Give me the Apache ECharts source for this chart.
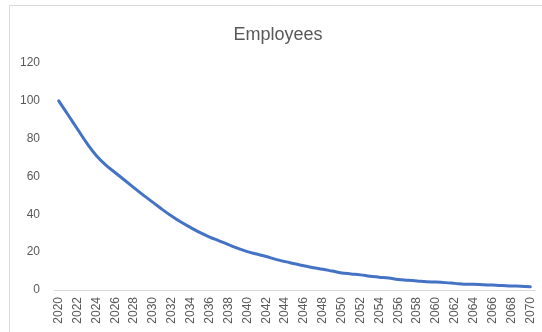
<!DOCTYPE html>
<html>
<head>
<meta charset="utf-8">
<script src="https://cdn.jsdelivr.net/npm/echarts@6/dist/echarts.min.js"></script>
<style>
html,body{margin:0;padding:0;background:#fff;}
#chart{width:542px;height:332px;}
</style>
</head>
<body>
<div id="chart"></div>
<script>
var years = ['2020','2021','2022','2023','2024','2025','2026','2027','2028','2029',
'2030','2031','2032','2033','2034','2035','2036','2037','2038','2039',
'2040','2041','2042','2043','2044','2045','2046','2047','2048','2049',
'2050','2051','2052','2053','2054','2055','2056','2057','2058','2059',
'2060','2061','2062','2063','2064','2065','2066','2067','2068','2069','2070'];
var employees = [100,92.5,85,77.5,71,66,62,58,54,50,
46.3,42.5,39,35.8,33,30.3,28,26,24,22,
20.3,19,17.7,16.2,15,13.9,12.8,11.8,11,10,
9,8.5,8,7.3,6.8,6.3,5.6,5.2,4.8,4.4,
4.2,3.9,3.5,3.1,3,2.8,2.6,2.4,2.1,2,1.7];
var yTicks = [0,20,40,60,80,100,120];
var titleText = 'Employees';

var chart = echarts.init(document.getElementById('chart'));
chart.setOption({
  animation:false,
  title:{text:titleText,left:273,textAlign:'center',top:21,
    textStyle:{fontFamily:'Liberation Sans',fontSize:18,fontWeight:'normal',color:'#595959'}},
  graphic:[{type:'rect',shape:{x:9.5,y:5.5,width:560,height:360},
    style:{fill:'none',stroke:'#d9d9d9',lineWidth:1},silent:true}],
  grid:{left:54,right:7,top:63,bottom:42},
  xAxis:{type:'category',data:years,boundaryGap:true,
    axisLine:{lineStyle:{color:'#d9d9d9',width:1}},
    axisTick:{show:false},
    axisLabel:{interval:1,rotate:90,margin:7,color:'#595959',fontSize:12,fontFamily:'Liberation Sans'}},
  yAxis:{type:'value',min:yTicks[0],max:yTicks[yTicks.length-1],interval:20,
    axisLine:{show:false},axisTick:{show:false},splitLine:{show:false},
    axisLabel:{margin:14,color:'#595959',fontSize:12,fontFamily:'Liberation Sans'}},
  series:[{type:'line',data:employees,smooth:0.4,symbol:'none',
    lineStyle:{color:'#4472C4',width:3,cap:'round'}}]
});
</script>
</body>
</html>
